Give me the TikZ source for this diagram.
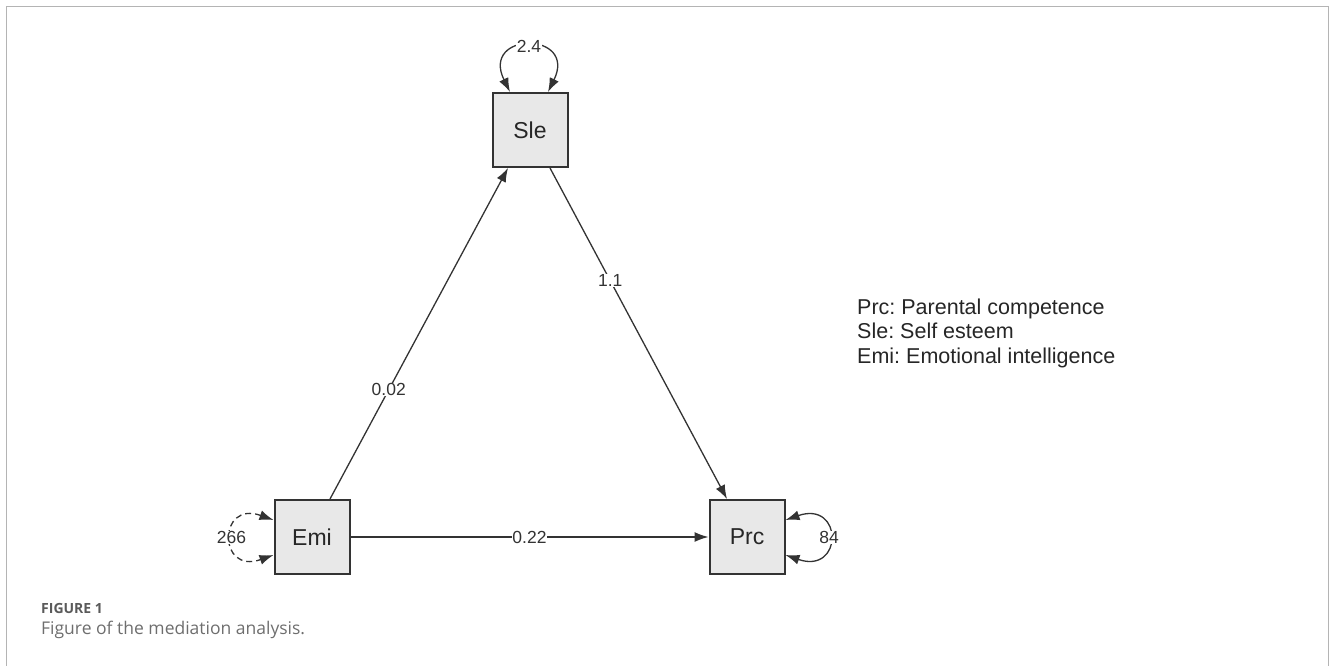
\documentclass[tikz,border=0pt]{standalone}
\usepackage{fontspec}
\setmainfont{Liberation Sans}
\newfontfamily\captionfont{Open Sans}
\usetikzlibrary{arrows.meta, positioning}
\frenchspacing
\definecolor{BoxFill}{HTML}{E8E8E8}
\definecolor{BoxLine}{HTML}{333333}
\definecolor{FrameGray}{HTML}{B4B4B4}
\definecolor{CaptionGray}{HTML}{6E6E6E}
\definecolor{LabelGray}{HTML}{5A5A5A}
\tikzset{
    % variable boxes
    varbox/.style={
        rectangle,
        draw=BoxLine,
        fill=BoxFill,
        line width=2pt,
        minimum width=75pt,
        minimum height=74pt,
        inner sep=0pt,
        text=black!85,
        font=\fontsize{23}{27}\selectfont
    },
    % arrow styles
    patharrow/.style={
        -{Latex[length=14pt,width=10pt]},
        line width=1.3pt,
        BoxLine
    },
    looparrow/.style={
        {Latex[length=14pt,width=10pt]}-{Latex[length=14pt,width=10pt]},
        line width=1.3pt,
        BoxLine
    },
    % coefficient labels
    coef/.style={
        fill=white,
        inner sep=0.5pt,
        text=BoxLine,
        font=\fontsize{17.5}{20}\selectfont
    }
}
\begin{document}
\begin{tikzpicture}[x=1pt,y=-1pt]
    \useasboundingbox (0,0) rectangle (1330,666);
    % Frame
    \draw[FrameGray, line width=1.5pt] (6.5,666) -- (6.5,6.5) -- (1328.5,6.5) -- (1328.5,666);

    % Variables
    \node[varbox] (sle) at (530,130) {Sle};
    \node[varbox] (emi) at (312,537) {Emi};
    \node[varbox] (prc) at (747,537) {Prc};

    % Paths
    \draw[patharrow] ([xshift=18pt]emi.north) -- ([xshift=-22pt]sle.south)
        node[coef, pos=0.33] {0.02};
    \draw[patharrow] ([xshift=20pt]sle.south) -- ([xshift=-20pt]prc.north)
        node[coef, pos=0.34] {1.1};
    \draw[patharrow] (emi.east) -- (prc.west)
        node[coef, pos=0.5] {0.22};

    % Variances
    \draw[looparrow] ([xshift=-20pt]sle.north) .. controls +(-30,-61) and +(30,-61) .. ([xshift=18pt]sle.north)
        node[coef, pos=0.5] {2.4};
    \draw[looparrow, dash pattern=on 6pt off 4pt] ([yshift=17pt]emi.west) .. controls +(-56,-20) and +(-56,20) .. ([yshift=-18pt]emi.west)
        node[coef, pos=0.5] {266};
    \draw[looparrow] ([yshift=17pt]prc.east) .. controls +(58,-20) and +(58,20) .. ([yshift=-18pt]prc.east)
        node[coef, pos=0.5] {84};

    % Legend
    \node[anchor=west, align=left, inner sep=0pt, text=black!85,
          font=\fontsize{21.5}{24.5}\selectfont] (legend) at (857,333)
        {Prc: Parental competence\\Sle: Self esteem\\Emi: Emotional intelligence};

    % Caption
    \node[anchor=west, inner sep=0pt, text=LabelGray,
          font=\captionfont\bfseries\fontsize{14}{16}\selectfont] (figlabel) at (41,608) {FIGURE 1};
    \node[anchor=west, inner sep=0pt, text=CaptionGray,
          font=\captionfont\fontsize{17.5}{21}\selectfont] (figcaption) at (41,630) {Figure of the mediation analysis.};
\end{tikzpicture}
\end{document}
